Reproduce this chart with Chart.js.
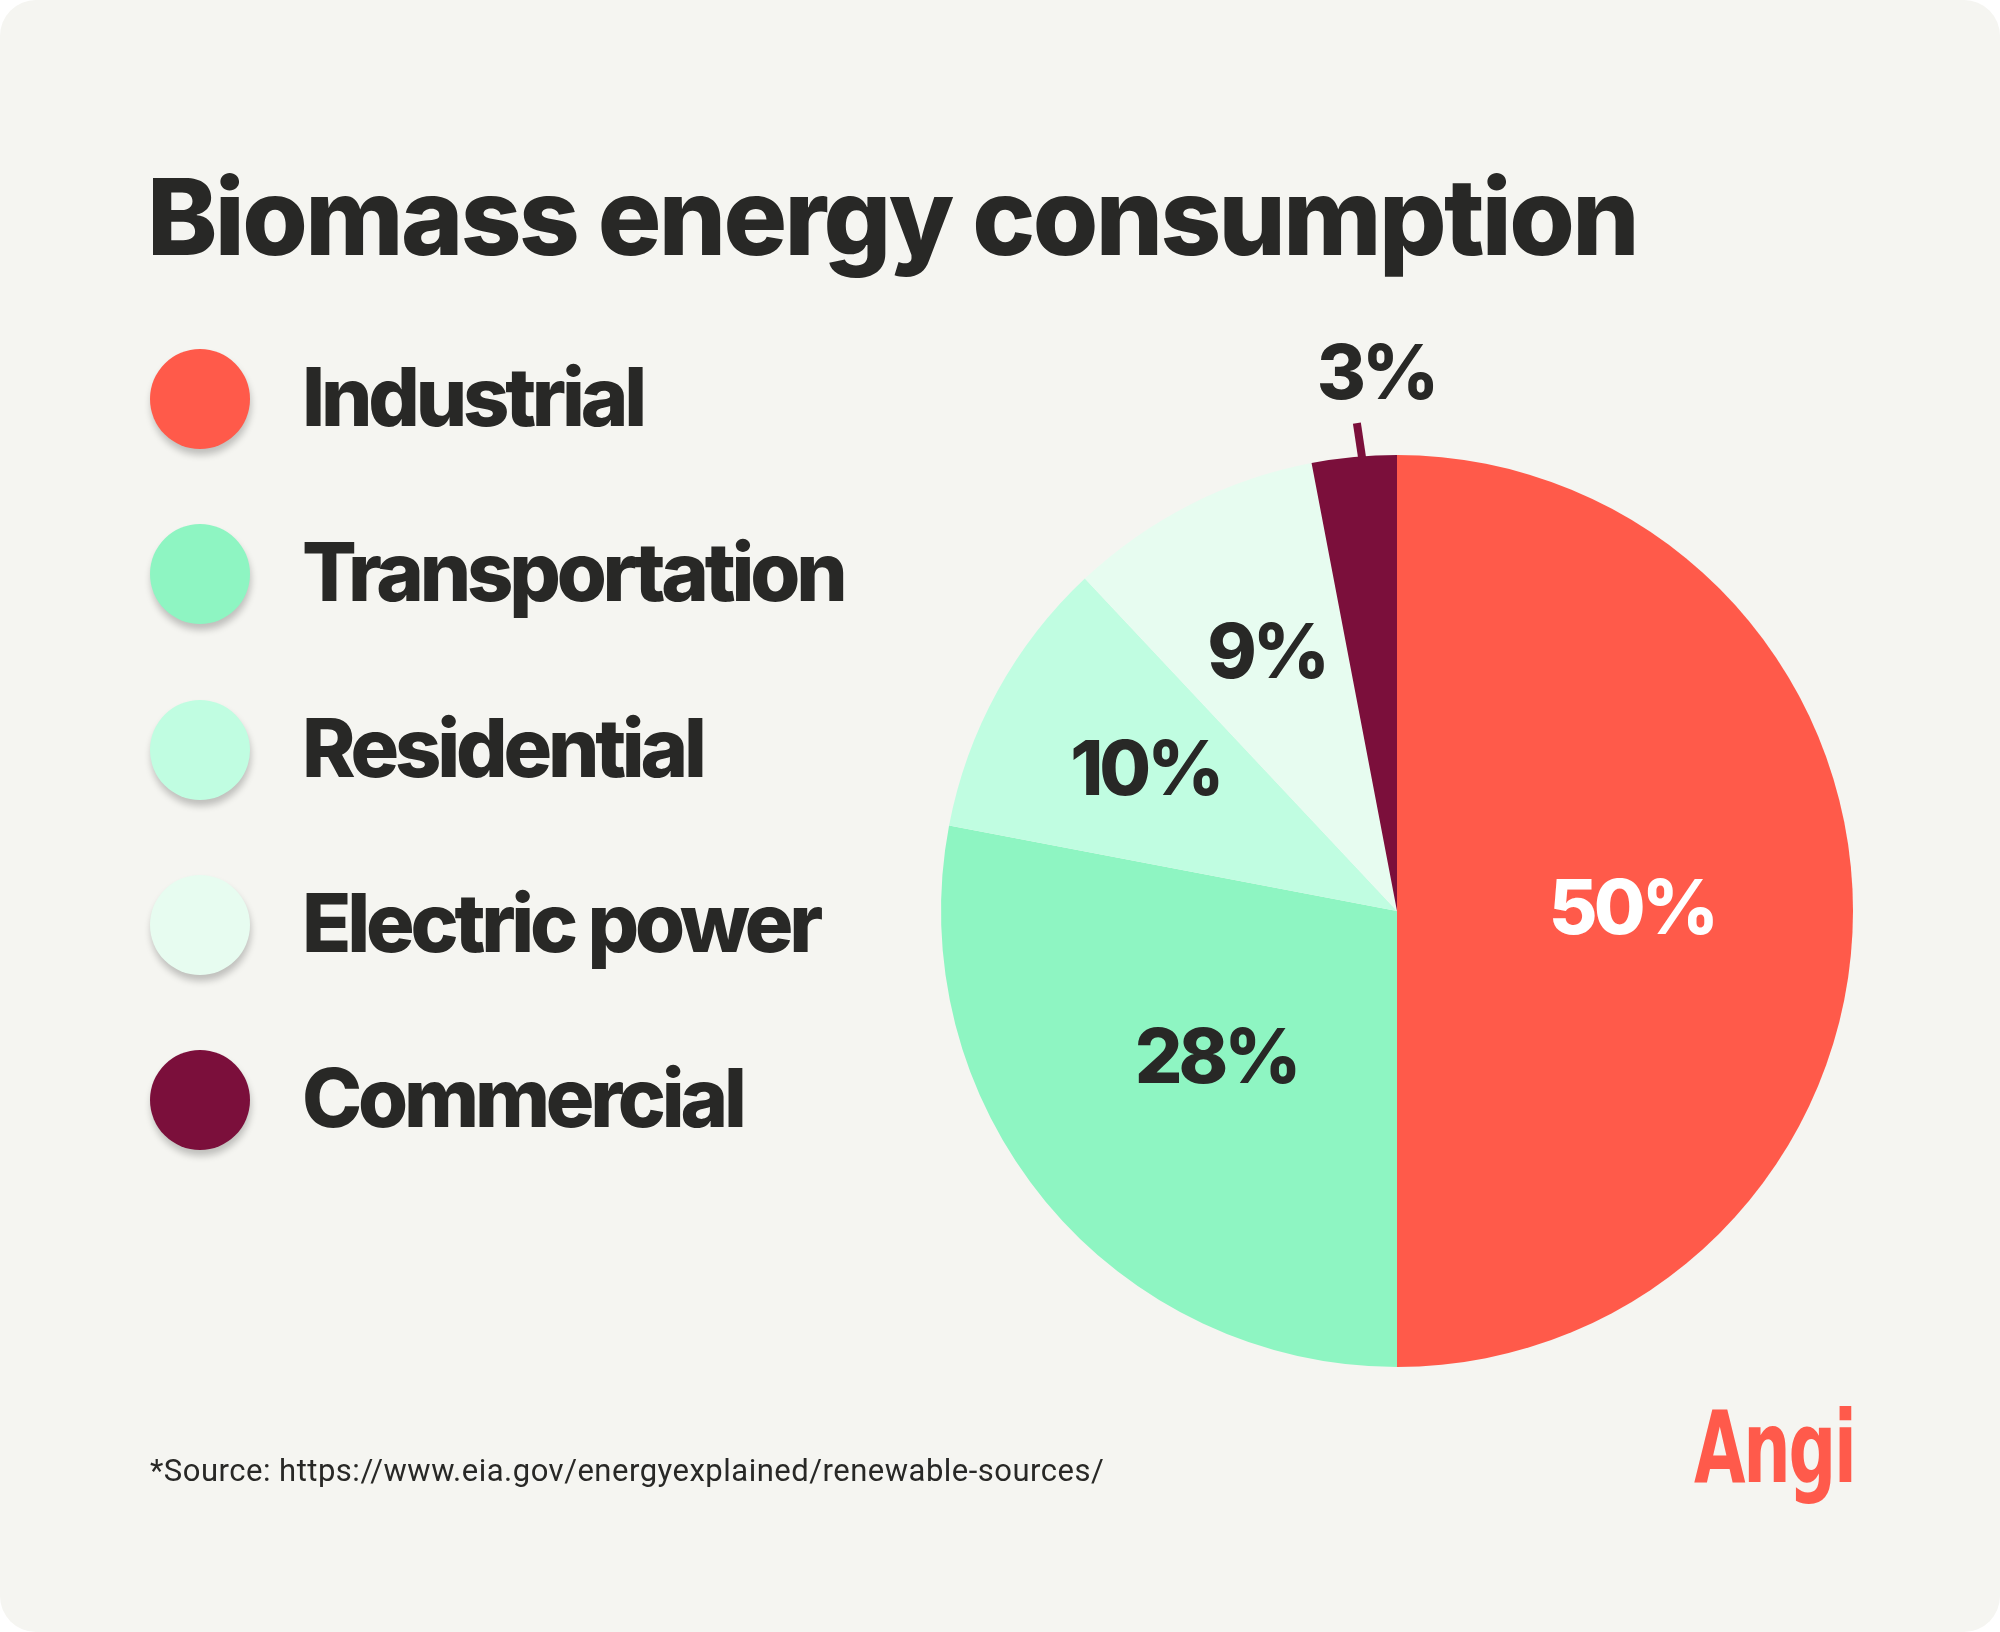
<!DOCTYPE html>
<html>
<head>
<meta charset="utf-8">
<script src="https://cdn.jsdelivr.net/npm/chart.js@4/dist/chart.umd.min.js"></script>
<style>
  html, body { margin: 0; padding: 0; background: #ffffff; }
  #card {
    position: relative;
    width: 2000px;
    height: 1632px;
    background: #f5f5f1;
    border-radius: 36px;
    overflow: hidden;
    font-family: Inter, "Noto Sans", sans-serif;
    color: #282826;
  }
  #title {
    position: absolute;
    left: 147px;
    top: 164px;
    margin: 0;
    font-size: 106px;
    line-height: 1;
    font-weight: 800;
    letter-spacing: -2.6px;
    white-space: nowrap;
  }
  .legend-dot {
    position: absolute;
    left: 150px;
    width: 100px;
    height: 100px;
    border-radius: 50%;
    box-shadow: 1px 6px 7px rgba(0, 0, 0, 0.22);
  }
  .legend-text {
    position: absolute;
    left: 302px;
    height: 100px;
    line-height: 100px;
    font-size: 81px;
    font-weight: 800;
    letter-spacing: -4.2px;
    white-space: nowrap;
  }
  #source {
    position: absolute;
    left: 150px;
    top: 1451px;
    font-family: Roboto, "Liberation Sans", sans-serif;
    font-size: 31px;
    line-height: 40px;
    letter-spacing: 0.5px;
    color: #282826;
  }
  #logo {
    position: absolute;
    left: 1694px;
    top: 1398px;
    font-family: "DejaVu Sans Condensed", "DejaVu Sans", sans-serif;
    font-weight: bold;
    font-size: 100px;
    line-height: 1;
    color: #ff5a4b;
    letter-spacing: -3px;
    transform: scaleX(0.74);
    transform-origin: left top;
  }
  #pie {
    position: absolute;
    left: 897px;
    top: 305px;
  }
</style>
</head>
<body>
<div id="card">
  <h1 id="title">Biomass energy consumption</h1>
  <div id="legend"></div>
  <canvas id="pie" width="1000" height="1212"></canvas>
  <div id="source">*Source: https://www.eia.gov/energyexplained/renewable-sources/</div>
  <div id="logo">Angi</div>
</div>
<script>
// chart data
const categories = ['Industrial', 'Transportation', 'Residential', 'Electric power', 'Commercial'];
const shares = [50, 28, 10, 9, 3];
const sliceColors = ['#ff5a4a', '#8ef5c2', '#c0fde1', '#e7fcf0', '#7b0f3b'];
const labelColors = ['#ffffff', '#282826', '#282826', '#282826', '#282826'];

// legend built from the same arrays
const legend = document.getElementById('legend');
categories.forEach((name, i) => {
    const cy = 399 + i * 175.3;
    const dot = document.createElement('div');
    dot.className = 'legend-dot';
    dot.style.top = (cy - 50) + 'px';
    dot.style.background = sliceColors[i];
    legend.appendChild(dot);

    const text = document.createElement('div');
    text.className = 'legend-text';
    text.style.top = (cy - 52) + 'px';
    text.textContent = name;
    legend.appendChild(text);
});

// draws the percentage labels, small slices get a leader line outside
const pieLabels = {
    id: 'pieLabels',
    afterDatasetsDraw(chart) {
        const ctx = chart.ctx;
        const meta = chart.getDatasetMeta(0);
        ctx.save();
        ctx.font = '800 75px Inter, "Noto Sans", sans-serif';
        ctx.letterSpacing = '-4px';
        ctx.textAlign = 'center';
        ctx.textBaseline = 'middle';
        meta.data.forEach((arc, i) => {
            const p = arc.getProps(['x', 'y', 'startAngle', 'endAngle', 'outerRadius']);
            const mid = (p.startAngle + p.endAngle) / 2;
            const value = shares[i];
            const text = value + '%';
            if (value >= 5) {
                const r = p.outerRadius * (value >= 25 ? 0.515 : 0.63);
                ctx.fillStyle = labelColors[i];
                ctx.fillText(text, p.x + Math.cos(mid) * r, p.y + Math.sin(mid) * r);
            } else {
                const r0 = p.outerRadius - 2;
                const r1 = p.outerRadius + 34;
                const x1 = p.x + Math.cos(mid) * r1;
                const y1 = p.y + Math.sin(mid) * r1;
                ctx.strokeStyle = sliceColors[i];
                ctx.lineWidth = 8;
                ctx.beginPath();
                ctx.moveTo(p.x + Math.cos(mid) * r0 + 8, p.y + Math.sin(mid) * r0);
                ctx.lineTo(x1 + 6, y1);
                ctx.stroke();
                ctx.fillStyle = labelColors[i];
                ctx.fillText(text, x1 + 25, y1 - 47);
            }
        });
        ctx.restore();
    }
};

new Chart(document.getElementById('pie'), {
    type: 'pie',
    data: {
        labels: categories,
        datasets: [{
            data: shares,
            backgroundColor: sliceColors,
            borderWidth: 0
        }]
    },
    options: {
        responsive: false,
        animation: false,
        layout: { padding: 44 },
        plugins: {
            legend: { display: false },
            tooltip: { enabled: false }
        }
    },
    plugins: [pieLabels]
});
</script>
</body>
</html>
